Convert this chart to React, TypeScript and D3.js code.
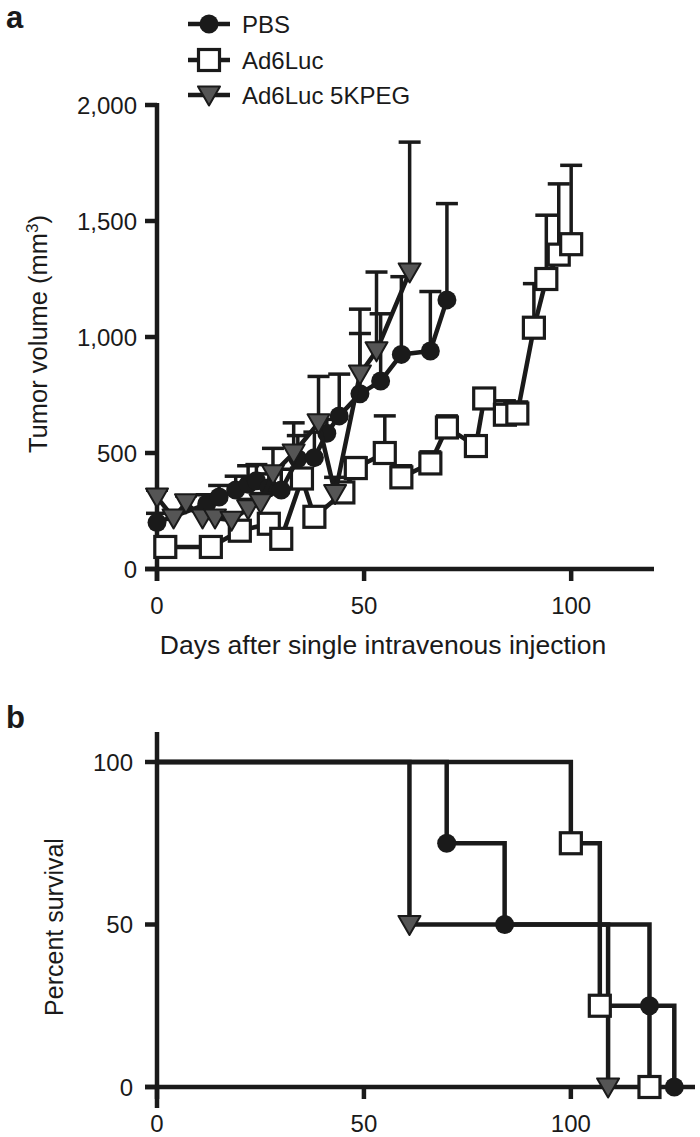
import React from "react";
import * as d3 from "d3";

// ---- Panel a: tumor volume ----
const pbsDays = [0, 12, 15, 19, 22, 24, 27, 30, 34, 38, 41, 44, 49, 54, 59, 66, 70];
const pbsVals = [200, 280, 310, 340, 365, 380, 350, 340, 475, 480, 585, 660, 755, 810, 925, 940, 1160];
const pbsErrs = [40, 40, 50, 60, 80, 70, 60, 90, 100, 110, 60, 180, 260, 290, 335, 256, 415];

const lucDays = [2, 13, 20, 27, 30, 35, 38, 45, 48, 55, 59, 66, 70, 77, 79, 84, 87, 91, 94, 97, 100];
const lucVals = [95, 95, 165, 195, 130, 390, 225, 330, 435, 500, 395, 455, 610, 530, 735, 665, 670, 1040, 1250, 1355, 1400];
const lucErrs = [20, 20, 30, 40, 30, 30, 40, 40, 45, 160, 50, 50, 50, 40, 30, 60, 50, 190, 275, 305, 340];

const pegDays = [0, 4, 7, 11, 14, 18, 22, 25, 28, 33, 39, 43, 49, 53, 61];
const pegVals = [310, 220, 285, 220, 220, 210, 260, 285, 410, 500, 630, 325, 840, 940, 1280];
const pegErrs = [30, 30, 30, 30, 30, 30, 40, 40, 110, 130, 200, 70, 280, 340, 560];

const volTicks = [0, 500, 1000, 1500, 2000];
const dayTicks = [0, 50, 100];

// ---- Panel b: survival ----
const survPbsT = [0, 70, 84, 119, 125];
const survPbsS = [100, 75, 50, 25, 0];
const survLucT = [0, 100, 107, 119];
const survLucS = [100, 75, 25, 0];
const survPegT = [0, 61, 109];
const survPegS = [100, 50, 0];
const survTicks = [0, 50, 100];

const legendLabels = ["PBS", "Ad6Luc", "Ad6Luc 5KPEG"];

const FONT = "'Liberation Sans', Arial, Helvetica, sans-serif";
const INK = "#1a1a1a";
const TRI = "#555555";

type Kind = "circle" | "square" | "tri";

function Marker({ kind, x, y }: { kind: Kind; x: number; y: number }) {
  if (kind === "circle") return <circle cx={x} cy={y} r={9.5} fill={INK} />;
  if (kind === "square")
    return <rect x={x - 10.5} y={y - 10.5} width={21} height={21} fill="#fff" stroke={INK} strokeWidth={3.2} />;
  const w = 11, h = 19;
  return (
    <path
      d={`M${x - w},${y - h * 0.45} L${x + w},${y - h * 0.45} L${x},${y + h * 0.55} Z`}
      fill={TRI}
      stroke={INK}
      strokeWidth={2}
      strokeLinejoin="round"
    />
  );
}

export default function App() {
  const xA = d3.scaleLinear().domain([0, 120]).range([157, 654]);
  const yA = d3.scaleLinear().domain([0, 2000]).range([569, 105]);
  const xB = d3.scaleLinear().domain([0, 130]).range([157, 695]);
  const yB = d3.scaleLinear().domain([0, 100]).range([1087, 762]);

  const seriesA = [
    { kind: "square" as Kind, days: lucDays, vals: lucVals, errs: lucErrs },
    { kind: "circle" as Kind, days: pbsDays, vals: pbsVals, errs: pbsErrs },
    { kind: "tri" as Kind, days: pegDays, vals: pegVals, errs: pegErrs },
  ];

  const lineA = d3
    .line<[number, number]>()
    .x((d) => xA(d[0]))
    .y((d) => yA(d[1]));

  const seriesB = [
    { kind: "tri" as Kind, t: survPegT, s: survPegS },
    { kind: "circle" as Kind, t: survPbsT, s: survPbsS },
    { kind: "square" as Kind, t: survLucT, s: survLucS },
  ];
  const lineB = d3
    .line<[number, number]>()
    .x((d) => xB(d[0]))
    .y((d) => yB(d[1]))
    .curve(d3.curveStepAfter);

  const legendKinds: Kind[] = ["circle", "square", "tri"];
  const legendY = [24, 60, 95];

  return (
    <svg
      width={700}
      height={1137}
      style={{ position: "absolute", left: 0, top: 0, display: "block", background: "#fff" }}
      fontFamily={FONT}
    >
      <rect x={0} y={0} width={700} height={1137} fill="#fff" />
      <text x={6} y={28} fontSize={31} fontWeight="bold" fill={INK}>a</text>
      <text x={6} y={728} fontSize={31} fontWeight="bold" fill={INK}>b</text>

      {legendLabels.map((lab, i) => (
        <g key={lab}>
          <line x1={188} x2={230} y1={legendY[i]} y2={legendY[i]} stroke={INK} strokeWidth={4.5} />
          <Marker kind={legendKinds[i]} x={209} y={legendY[i]} />
          <text x={242} y={legendY[i] + 8.5} fontSize={24} fill={INK}>{lab}</text>
        </g>
      ))}

      {/* Panel a axes */}
      <g stroke={INK} strokeWidth={4.5} strokeLinecap="butt">
        <line x1={xA(0)} x2={xA(0)} y1={yA(2000) - 2} y2={581} />
        <line x1={145} x2={xA(120)} y1={yA(0)} y2={yA(0)} />
        {volTicks.map((t) => (
          <line key={t} x1={145} x2={xA(0)} y1={yA(t)} y2={yA(t)} />
        ))}
        {dayTicks.map((t) => (
          <line key={t} x1={xA(t)} x2={xA(t)} y1={yA(0)} y2={581} />
        ))}
      </g>
      {volTicks.map((t) => (
        <text key={t} x={137} y={yA(t) + 8.5} fontSize={24} textAnchor="end" fill={INK}>
          {d3.format(",")(t)}
        </text>
      ))}
      {dayTicks.map((t) => (
        <text key={t} x={xA(t)} y={614} fontSize={24} textAnchor="middle" fill={INK}>
          {t}
        </text>
      ))}
      <text x={383} y={654} fontSize={26.5} textAnchor="middle" fill={INK}>
        Days after single intravenous injection
      </text>
      <text transform="translate(47,334) rotate(-90)" fontSize={25.5} textAnchor="middle" fill={INK}>
        Tumor volume (mm<tspan dy={-9} fontSize={17}>3</tspan><tspan dy={9}>)</tspan>
      </text>

      {/* Panel a data */}
      {seriesA.map((s, si) => (
        <g key={si}>
          <g stroke={INK} strokeWidth={3.5}>
            {s.days.map((d, i) => (
              <g key={i}>
                <line x1={xA(d)} x2={xA(d)} y1={yA(s.vals[i])} y2={yA(s.vals[i] + s.errs[i])} />
                <line x1={xA(d) - 11} x2={xA(d) + 11} y1={yA(s.vals[i] + s.errs[i])} y2={yA(s.vals[i] + s.errs[i])} />
              </g>
            ))}
          </g>
          <path
            d={lineA(s.days.map((d, i) => [d, s.vals[i]] as [number, number])) || ""}
            fill="none"
            stroke={INK}
            strokeWidth={4.5}
            strokeLinejoin="round"
          />
          {s.days.map((d, i) => (
            <Marker key={i} kind={s.kind} x={xA(d)} y={yA(s.vals[i])} />
          ))}
        </g>
      ))}

      {/* Panel b axes */}
      <g stroke={INK} strokeWidth={4.5}>
        <line x1={xB(0)} x2={xB(0)} y1={732} y2={1108} />
        <line x1={145} x2={695} y1={yB(0)} y2={yB(0)} />
        {survTicks.map((t) => (
          <line key={t} x1={145} x2={xB(0)} y1={yB(t)} y2={yB(t)} />
        ))}
        {dayTicks.map((t) => (
          <line key={t} x1={xB(t)} x2={xB(t)} y1={yB(0)} y2={1099} />
        ))}
      </g>
      {survTicks.map((t) => (
        <text key={t} x={133} y={yB(t) + 8.5} fontSize={24} textAnchor="end" fill={INK}>
          {t}
        </text>
      ))}
      {dayTicks.map((t) => (
        <text key={t} x={xB(t)} y={1132} fontSize={24} textAnchor="middle" fill={INK}>
          {t}
        </text>
      ))}
      <text transform="translate(63,927) rotate(-90)" fontSize={25} textAnchor="middle" fill={INK}>
        Percent survival
      </text>

      {/* Panel b data */}
      {seriesB.map((s, si) => (
        <path
          key={si}
          d={lineB(s.t.map((t, i) => [t, s.s[i]] as [number, number])) || ""}
          fill="none"
          stroke={INK}
          strokeWidth={4.5}
        />
      ))}
      {seriesB.map((s, si) => (
        <g key={si}>
          {s.t.slice(1).map((t, i) => (
            <Marker key={i} kind={s.kind} x={xB(t)} y={yB(s.s[i + 1])} />
          ))}
        </g>
      ))}
    </svg>
  );
}
